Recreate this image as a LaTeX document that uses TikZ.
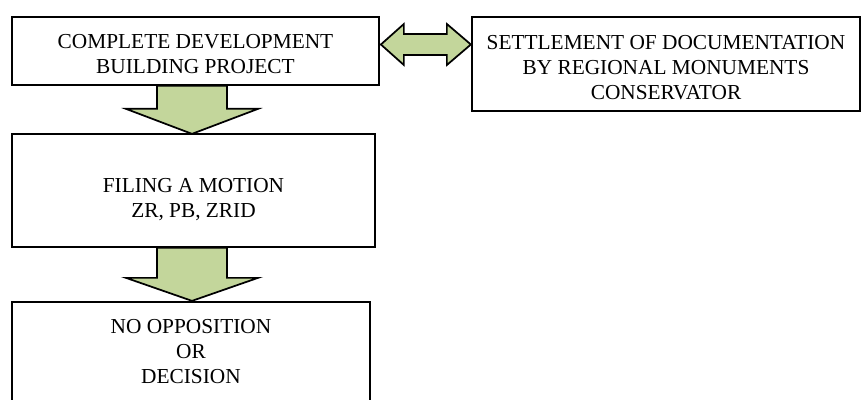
\documentclass[tikz,border=0pt]{standalone}
\usepackage{fontspec}
\setmainfont{Liberation Serif}
\usetikzlibrary{calc}
\definecolor{arrowgreen}{RGB}{195,214,155}
\tikzset{
  stagebox/.style={draw=black, line width=1.3pt, fill=white, align=center,
    inner sep=0pt, font=\fontsize{16}{18.75}\selectfont},
  blockarrow/.style={draw=black, line width=1.3pt, fill=arrowgreen, line join=miter}
}
\begin{document}
\begin{tikzpicture}[x=0.75pt, y=-0.75pt]
		\useasboundingbox (0,0) rectangle (862,399);
		\clip (0,0) rectangle (862,399);
		% boxes
		\node[stagebox, minimum width=275.25pt, minimum height=51pt] (project) at (195.5,51) {\rule{0pt}{14.5pt}COMPLETE DEVELOPMENT\\BUILDING PROJECT};
		\node[stagebox, minimum width=291pt, minimum height=70.5pt] (conservator) at (666,64) {\rule{0pt}{16pt}SETTLEMENT OF DOCUMENTATION\\BY REGIONAL MONUMENTS\\CONSERVATOR};
		\node[stagebox, minimum width=272.25pt, minimum height=84.75pt] (motion) at (193.5,190.5) {\rule{0pt}{24pt}FILING A MOTION\\ZR, PB, ZRID};
		\node[stagebox, minimum width=268.5pt, minimum height=75pt] (decision) at (191,352) {NO OPPOSITION\\OR\\DECISION};
		% arrows
		\coordinate (lefttip) at ($(project.east)+(1,-6.5)$);
		\filldraw[blockarrow] (lefttip) -- ++(23,-20.5) -- ++(0,10) -- ++(43,0) -- ++(0,-10)
			-- ++(24,20.5) -- ++(-24,20.5) -- ++(0,-10) -- ++(-43,0) -- ++(0,10) -- cycle;
		\coordinate (down1) at ($(project.south)+(-3.5,0)$);
		\filldraw[blockarrow] ($(down1)+(-35,0)$) -- ++(0,23) -- ++(-31,0) -- ++(66,25)
			-- ++(66,-25) -- ++(-31,0) -- ++(0,-23) -- cycle;
		\coordinate (down2) at ($(motion.south)+(-1.5,0)$);
		\filldraw[blockarrow] ($(down2)+(-35,0)$) -- ++(0,30) -- ++(-31,0) -- ++(66,23)
			-- ++(66,-23) -- ++(-31,0) -- ++(0,-30) -- cycle;
	\end{tikzpicture}
\end{document}
